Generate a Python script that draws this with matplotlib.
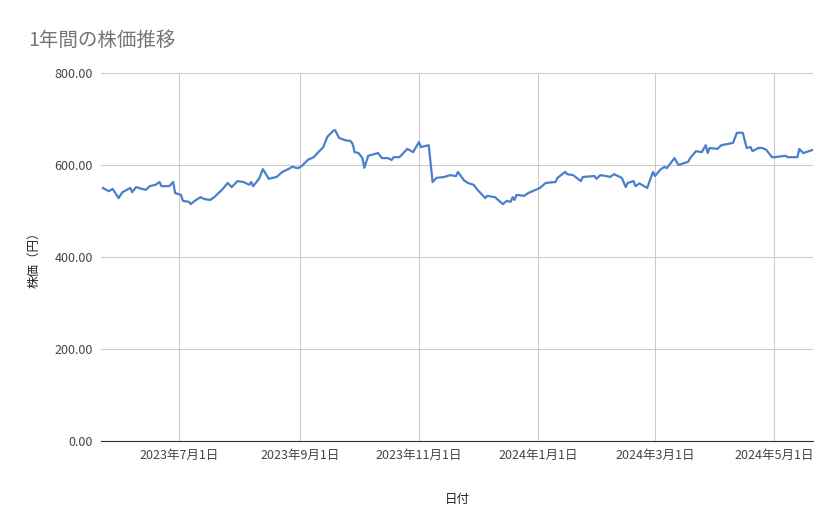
import matplotlib
matplotlib.use("Agg")
import matplotlib.pyplot as plt
import matplotlib.dates as mdates
import pandas as pd

plt.rcParams['font.family'] = ['Noto Sans CJK JP', 'DejaVu Sans']

dates = ["2023-05-23","2023-05-26","2023-05-28","2023-05-31","2023-06-02","2023-06-06","2023-06-07","2023-06-09",
"2023-06-12","2023-06-14","2023-06-16","2023-06-19","2023-06-21","2023-06-22","2023-06-26","2023-06-28","2023-06-29",
"2023-07-02","2023-07-03","2023-07-06","2023-07-07","2023-07-09","2023-07-12","2023-07-14","2023-07-17","2023-07-19",
"2023-07-23","2023-07-26","2023-07-28","2023-07-31","2023-08-03","2023-08-06","2023-08-07","2023-08-08","2023-08-11",
"2023-08-13","2023-08-16","2023-08-20","2023-08-23","2023-08-26","2023-08-28","2023-08-31","2023-09-02","2023-09-05",
"2023-09-08","2023-09-10","2023-09-13","2023-09-15","2023-09-18","2023-09-19","2023-09-21","2023-09-24","2023-09-27",
"2023-09-28","2023-09-29","2023-10-01","2023-10-03","2023-10-04","2023-10-06","2023-10-11","2023-10-13","2023-10-16",
"2023-10-18","2023-10-19","2023-10-22","2023-10-26","2023-10-29","2023-11-01","2023-11-02","2023-11-06","2023-11-08",
"2023-11-10","2023-11-14","2023-11-17","2023-11-20","2023-11-21","2023-11-24","2023-11-26","2023-11-29","2023-12-01",
"2023-12-05","2023-12-06","2023-12-10","2023-12-14","2023-12-16","2023-12-18","2023-12-19","2023-12-20","2023-12-21",
"2023-12-25","2023-12-27","2024-01-02","2024-01-05","2024-01-10","2024-01-11","2024-01-15","2024-01-16","2024-01-19",
"2024-01-23","2024-01-24","2024-01-30","2024-01-31","2024-02-02","2024-02-05","2024-02-07","2024-02-09","2024-02-13",
"2024-02-15","2024-02-16","2024-02-19","2024-02-20","2024-02-22","2024-02-26","2024-02-28","2024-02-29","2024-03-01",
"2024-03-04","2024-03-06","2024-03-07","2024-03-11","2024-03-13","2024-03-18","2024-03-19","2024-03-22","2024-03-25",
"2024-03-27","2024-03-28","2024-03-29","2024-04-02","2024-04-04","2024-04-10","2024-04-12","2024-04-15","2024-04-17",
"2024-04-19","2024-04-20","2024-04-23","2024-04-25","2024-04-27","2024-04-30","2024-05-01","2024-05-07","2024-05-08",
"2024-05-13","2024-05-14","2024-05-16","2024-05-21"]

prices = [550,543,548,528,541,550,541,552,
548,546,554,557,563,554,554,563,539,
535,522,520,515,522,530,526,524,530,
546,561,552,565,563,557,563,554,570,
591,570,574,585,591,596,593,598,611,
617,626,639,661,674,676,659,654,652,
646,628,626,615,594,620,626,615,615,
611,617,617,635,628,650,639,643,563,
572,574,578,576,585,567,561,557,546,
528,533,530,515,522,520,530,524,535,
533,539,550,561,563,572,585,580,578,
565,574,576,570,578,576,574,580,572,
552,561,565,554,560,550,574,585,576,
591,596,593,615,600,607,615,630,628,
643,626,637,635,643,648,670,670,637,
639,630,637,637,633,617,617,620,617,
617,635,626,633]

x = pd.to_datetime(dates)

fig = plt.figure(figsize=(8.39, 5.19), dpi=100)
ax = fig.add_axes([101/839, 1-441/519, (813-101)/839, (441-73)/519])
ax.plot(x, prices, color='#4a7fcb', lw=1.6)

ax.set_ylim(0, 800)
ax.set_yticks([0, 200, 400, 600, 800])
ax.set_yticklabels([f"{v:.2f}" for v in [0, 200, 400, 600, 800]])
ax.set_xlim(pd.Timestamp("2023-05-22"), pd.Timestamp("2024-05-21"))
ticks = pd.to_datetime(["2023-07-01","2023-09-01","2023-11-01","2024-01-01","2024-03-01","2024-05-01"])
ax.set_xticks(ticks)
ax.set_xticklabels([f"{t.year}年{t.month}月{t.day}日" for t in ticks])
ax.grid(True, color='#cccccc', lw=0.8)
ax.set_axisbelow(True)
for s in ['top', 'right', 'left']:
    ax.spines[s].set_visible(False)
ax.spines['bottom'].set_color('#333333')
ax.tick_params(length=0, labelsize=9, colors='#444444', pad=6)
ax.set_xlabel("日付", fontsize=9, color='#222222', labelpad=22)
ax.set_ylabel("株価（円）", fontsize=9, color='#222222', labelpad=10)
fig.text(28/839, 1-40/519, "1年間の株価推移", fontsize=14, color='#757575', va='center')

fig.savefig("out.png", dpi=100)
